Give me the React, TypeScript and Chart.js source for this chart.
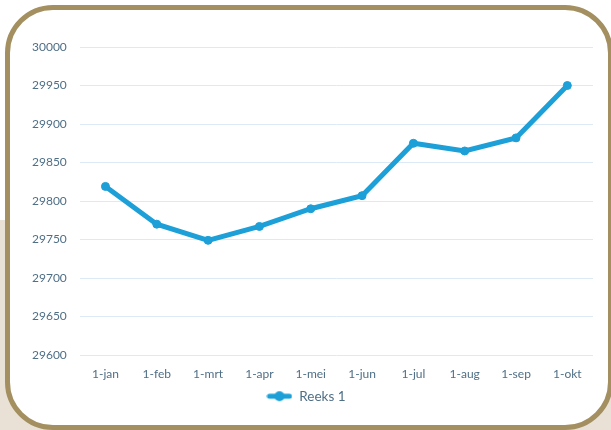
import React, { useEffect, useRef } from "react";
import { Chart, registerables } from "chart.js";

Chart.register(...registerables);

const categories = ["1-jan", "1-feb", "1-mrt", "1-apr", "1-mei", "1-jun", "1-jul", "1-aug", "1-sep", "1-okt"];
const reeks1 = [29819, 29770, 29749, 29767, 29790, 29807, 29875, 29865, 29882, 29950];
const seriesName = "Reeks 1";
const yMin = 29600;
const yMax = 30000;
const yStep = 50;

const LINE = "#1d9fd8";
const TEXT = "#4f6f86";
const FONT = "Lato, 'Open Sans', sans-serif";

export default function App() {
  const ref = useRef<HTMLCanvasElement | null>(null);

  useEffect(() => {
    if (!ref.current) return;
    const icon = document.createElement("canvas");
    icon.width = 26;
    icon.height = 12;
    const ic = icon.getContext("2d")!;
    ic.strokeStyle = LINE;
    ic.lineWidth = 5;
    ic.lineCap = "round";
    ic.beginPath();
    ic.moveTo(3, 6);
    ic.lineTo(23, 6);
    ic.stroke();
    ic.fillStyle = LINE;
    ic.beginPath();
    ic.arc(13, 6, 5, 0, Math.PI * 2);
    ic.fill();

    const chart = new Chart(ref.current, {
      type: "line",
      data: {
        labels: categories,
        datasets: [
          {
            label: seriesName,
            data: reeks1,
            borderColor: LINE,
            backgroundColor: LINE,
            borderWidth: 5,
            pointRadius: 4,
            pointBorderWidth: 1,
            pointBackgroundColor: LINE,
            pointBorderColor: LINE,
            pointStyle: "circle",
            tension: 0,
          } as any,
        ],
      },
      options: {
        animation: false,
        responsive: false,
        maintainAspectRatio: false,
        layout: { padding: { left: 19, right: 18, top: 47, bottom: 17 } },
        plugins: {
          tooltip: { enabled: false },
          legend: {
            position: "bottom",
            labels: {
              color: TEXT,
              font: { family: FONT, size: 13.5 },
              usePointStyle: true,
              pointStyleWidth: 26,
              padding: 0,
              generateLabels: (c: any) => {
                const items = Chart.defaults.plugins.legend.labels.generateLabels(c);
                items.forEach((it: any) => {
                  it.pointStyle = icon;
                });
                return items;
              },
            },
          },
        },
        scales: {
          x: {
            offset: true,
            grid: { display: false, drawTicks: false },
            border: { display: false },
            ticks: { color: TEXT, font: { family: FONT, size: 12 }, padding: 12, maxRotation: 0 },
            afterFit: (s: any) => {
              s.height -= 4;
            },
          },
          y: {
            min: yMin,
            max: yMax,
            grid: { color: "#dbeaf4", lineWidth: 1, drawTicks: false },
            border: { display: false },
            ticks: {
              stepSize: yStep,
              color: TEXT,
              font: { family: FONT, size: 12 },
              padding: 13,
              callback: (v: any) => String(v),
            },
          },
        },
      },
    });
    return () => chart.destroy();
  }, []);

  return (
    <div
      style={{
        position: "fixed",
        left: 0,
        top: 0,
        width: 611,
        height: 430,
        overflow: "hidden",
        background: "linear-gradient(to bottom, #ffffff 0px, #ffffff 220px, #e9e1d5 220px, #e9e1d5 430px)",
      }}
    >
      <div
        style={{
          position: "absolute",
          left: 5,
          top: 5,
          width: 608,
          height: 425,
          boxSizing: "border-box",
          border: "5px solid #a38f5f",
          borderRadius: 48,
          background: "#ffffff",
        }}
      />
      <canvas ref={ref} width={611} height={430} style={{ position: "absolute", left: 0, top: 0, display: "block" }} />
    </div>
  );
}
